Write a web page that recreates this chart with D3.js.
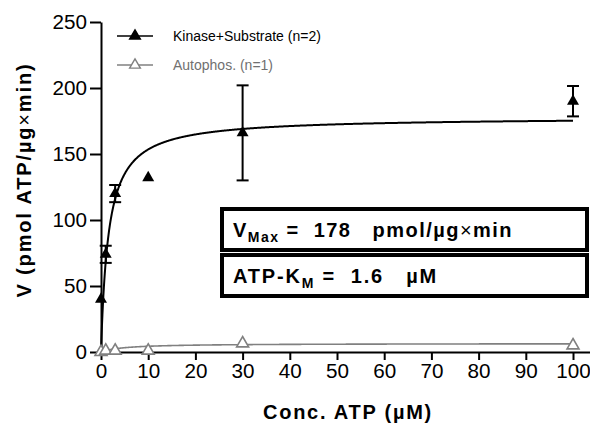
<!DOCTYPE html>
<html>
<head>
<meta charset="utf-8">
<script src="https://cdn.jsdelivr.net/npm/d3@7"></script>
<style>
  body { margin: 0; background: #fff; }
  text { font-family: Arial, "Liberation Sans", sans-serif; }
</style>
</head>
<body>
<div id="chart-area"></div>
<script>
// SVG size
var width = 590,
    height = 427;

// data
var conc = [0, 1, 3, 10, 30, 100];
var kinaseMean = [40, 74, 120, 132, 166, 190];
var kinaseErr = [0, 6.5, 6.5, 0, 36, 11.5];
var autoMean = [0, 1, 1, 1, 6.5, 5];

// fit parameters (Michaelis-Menten)
var kinaseFit = { vmax: 178, km: 1.6 };
var autoFit = { vmax: 6.5, km: 5 };

var xTicks = [0, 10, 20, 30, 40, 50, 60, 70, 80, 90, 100];
var yTicks = [0, 50, 100, 150, 200, 250];

var svg = d3.select("#chart-area").append("svg")
    .attr("width", width)
    .attr("height", height);

// scale a text's font so it spans the wanted width
function fitFont(sel, target) {
    var fs = parseFloat(sel.style("font-size"));
    var w = sel.node().getComputedTextLength();
    if (w > 0) sel.style("font-size", (fs * target / w) + "px");
}
// keep the font, spread letters to the wanted width
function fitSpacing(sel, target, n) {
    var w = sel.node().getComputedTextLength();
    sel.attr("letter-spacing", Math.max(0, (target - w) / n));
}

var x = d3.scaleLinear().domain([0, 103.6]).range([101, 590]);
var y = d3.scaleLinear().domain([0, 250]).range([352, 22]);

// axes
var xAxis = d3.axisBottom(x)
    .tickValues(xTicks)
    .tickSize(8)
    .tickPadding(3)
    .tickSizeOuter(0);

var yAxis = d3.axisLeft(y)
    .tickValues(yTicks)
    .tickSize(11)
    .tickPadding(3)
    .tickSizeOuter(0);

var gx = svg.append("g")
    .attr("transform", "translate(0," + y(0) + ")")
    .call(xAxis);

var gy = svg.append("g")
    .attr("transform", "translate(" + x(0) + ",0)")
    .call(yAxis);

[gx, gy].forEach(function (g) {
    g.attr("font-size", null).attr("font-family", null);
    g.selectAll("path, line").attr("stroke", "#000").attr("stroke-width", 2);
    g.selectAll("text").style("font-size", "20px").attr("fill", "#000");
});

// tick label size from the width of "250" in the picture
var probe = gy.selectAll("text").filter(function (d) { return d === 250; });
fitFont(probe, 34.5);
var tickFs = probe.style("font-size");
gx.selectAll("text").style("font-size", tickFs);
gy.selectAll("text").style("font-size", tickFs);

// fit curves
function mm(p, c) { return p.vmax * c / (p.km + c); }
var fitX = d3.range(0, 100.01, 0.1);

var line = d3.line()
    .x(function (d) { return x(d[0]); })
    .y(function (d) { return y(d[1]); });

svg.append("path")
    .datum(fitX.map(function (c) { return [c, mm(autoFit, c)]; }))
    .attr("fill", "none")
    .attr("stroke", "#808080")
    .attr("stroke-width", 1.6)
    .attr("d", line);

svg.append("path")
    .datum(fitX.map(function (c) { return [c, mm(kinaseFit, c)]; }))
    .attr("fill", "none")
    .attr("stroke", "#000")
    .attr("stroke-width", 2)
    .attr("d", line);

// error bars
var kin = conc.map(function (c, i) {
    return { c: c, v: kinaseMean[i], e: kinaseErr[i] };
});

var eb = svg.selectAll(".err")
    .data(kin.filter(function (d) { return d.e > 0; }))
    .enter().append("g")
    .attr("class", "err")
    .attr("stroke", "#000")
    .attr("stroke-width", 2);

eb.append("line")
    .attr("x1", function (d) { return x(d.c); })
    .attr("x2", function (d) { return x(d.c); })
    .attr("y1", function (d) { return y(d.v - d.e); })
    .attr("y2", function (d) { return y(d.v + d.e); });

[1, -1].forEach(function (s) {
    eb.append("line")
        .attr("x1", function (d) { return x(d.c) - 6; })
        .attr("x2", function (d) { return x(d.c) + 6; })
        .attr("y1", function (d) { return y(d.v + s * d.e); })
        .attr("y2", function (d) { return y(d.v + s * d.e); });
});

// markers
var tri = d3.symbol().type(d3.symbolTriangle).size(62);

svg.selectAll(".auto")
    .data(conc.map(function (c, i) { return { c: c, v: autoMean[i] }; }))
    .enter().append("path")
    .attr("class", "auto")
    .attr("d", tri)
    .attr("transform", function (d) { return "translate(" + x(d.c) + "," + y(d.v) + ")"; })
    .attr("fill", "#fff")
    .attr("stroke", "#808080")
    .attr("stroke-width", 1.6);

svg.selectAll(".kin")
    .data(kin)
    .enter().append("path")
    .attr("class", "kin")
    .attr("d", tri)
    .attr("transform", function (d) { return "translate(" + x(d.c) + "," + y(d.v) + ")"; })
    .attr("fill", "#000");

// legend
var legend = [
    { label: "Kinase+Substrate (n=2)", color: "#000", text: "#000", fill: "#000", y: 36 },
    { label: "Autophos. (n=1)", color: "#808080", text: "#707070", fill: "#fff", y: 65 }
];

legend.forEach(function (d) {
    svg.append("line")
        .attr("x1", 117).attr("x2", 153)
        .attr("y1", d.y).attr("y2", d.y)
        .attr("stroke", d.color)
        .attr("stroke-width", 1.6);

    svg.append("path")
        .attr("d", d3.symbol().type(d3.symbolTriangle).size(50))
        .attr("transform", "translate(135," + d.y + ")")
        .attr("fill", d.fill)
        .attr("stroke", d.color)
        .attr("stroke-width", 1.4);

    svg.append("text")
        .attr("x", 173)
        .attr("y", d.y + 5)
        .style("font-size", "14px")
        .attr("fill", d.text)
        .text(d.label);
});

// parameter boxes
var boxes = [
    { top: 209, w: 280, parts: [["V", ""], ["Max", "sub"], [" =  178   pmol/µg", "up"], ["×", "thin"], ["min", ""]] },
    { top: 255, w: 205, parts: [["ATP-K", ""], ["M", "sub"], [" =  1.6   µM", "up"]] }
];

boxes.forEach(function (b) {
    svg.append("rect")
        .attr("x", 222).attr("y", b.top)
        .attr("width", 365).attr("height", 41)
        .attr("fill", "#fff")
        .attr("stroke", "#000")
        .attr("stroke-width", 4);

    var t = svg.append("text")
        .attr("x", 233).attr("y", b.top + 28)
        .attr("font-size", 20)
        .attr("font-weight", "bold")
        .style("white-space", "pre");

    var n = 0;
    b.parts.forEach(function (p) {
        var ts = t.append("tspan").text(p[0]);
        n += p[0].length;
        if (p[1] === "sub") ts.attr("font-size", 14).attr("dy", 5);
        if (p[1] === "up") ts.attr("dy", -5);
        if (p[1] === "thin") ts.attr("font-weight", "normal");
    });
    fitSpacing(t, b.w, n);
});

// axis labels
var xl = svg.append("text")
    .attr("text-anchor", "middle")
    .attr("x", 348)
    .attr("y", 419)
    .attr("font-size", 20)
    .attr("font-weight", "bold")
    .text("Conc. ATP (µM)");
fitSpacing(xl, 170, 14);

var yl = svg.append("text")
    .attr("text-anchor", "middle")
    .attr("transform", "translate(31,180) rotate(-90)")
    .attr("font-size", 20)
    .attr("font-weight", "bold");
yl.append("tspan").text("V (pmol ATP/µg");
yl.append("tspan").attr("font-weight", "normal").text("×");
yl.append("tspan").text("min)");
fitSpacing(yl, 235, 19);
</script>
</body>
</html>
